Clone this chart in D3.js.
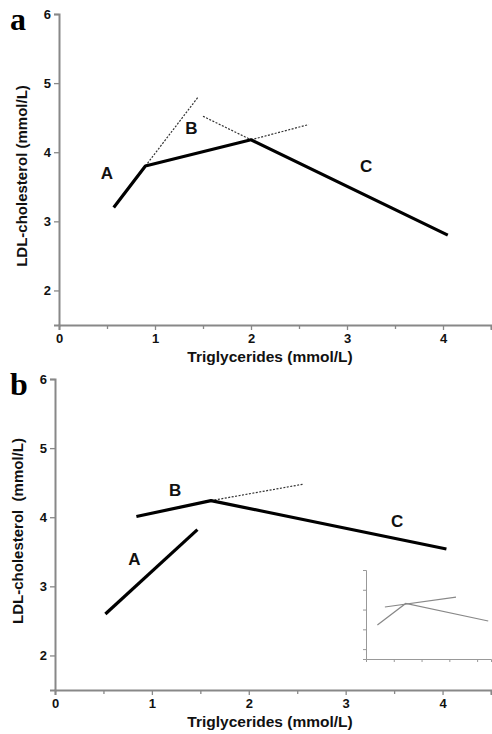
<!DOCTYPE html>
<html>
<head>
<meta charset="utf-8">
<script src="https://cdn.jsdelivr.net/npm/d3@7"></script>
<style>
  body { margin: 0; background: #fff; }
  text { font-family: "Liberation Sans", Arial, sans-serif; }
</style>
</head>
<body>
<div id="chart"></div>
<script>
// panel a segments (triglycerides, LDL)
const aSolid = [[0.57, 3.2], [0.9, 3.8], [2.0, 4.18], [4.05, 2.8]];
const aDotted = [
  [[0.9, 3.8], [1.45, 4.8]],
  [[1.5, 4.52], [2.0, 4.18]],
  [[2.0, 4.18], [2.6, 4.4]]
];
const aLabels = [["A", 0.5, 3.7], ["B", 1.38, 4.35], ["C", 3.2, 3.8]];

// panel b segments
const bSolid = [
  [[0.52, 2.6], [1.47, 3.82]],
  [[0.84, 4.01], [1.61, 4.24], [4.04, 3.54]]
];
const bDotted = [[[1.61, 4.24], [2.57, 4.48]]];
const bLabels = [["A", 0.82, 3.4], ["B", 1.24, 4.39], ["C", 3.53, 3.95]];

// inset (same units as main)
const insetLines = [
  [[0.41, 3.22], [1.43, 4.31], [4.4, 3.42]],
  [[0.68, 4.13], [3.24, 4.63]]
];

const xTicks = [0, 1, 2, 3, 4];
const xMinor = [0.5, 1.5, 2.5, 3.5, 4.5];
const yTicks = [2, 3, 4, 5, 6];

const W = 492, H = 734;
const svg = d3.select("#chart").append("svg")
  .attr("width", W).attr("height", H);

const axisColor = "#888";
const line = (x, y) => d3.line().x(d => x(d[0])).y(d => y(d[1]));

function panel(top, left, letter, solids, dotted, labels, yTitle, yMid) {
  const x = d3.scaleLinear().domain([0, 4.5]).range([left, 491]);
  const y = d3.scaleLinear().domain([1.5, 6]).range([top + 311, top]);
  const g = svg.append("g");

  g.append("g")
    .attr("transform", `translate(0,${y(1.5)})`)
    .call(d3.axisBottom(x).tickValues(xTicks).tickFormat(d3.format("d")).tickSize(5).tickPadding(4));
  g.append("g")
    .attr("transform", `translate(0,${y(1.5)})`)
    .call(d3.axisBottom(x).tickValues(xMinor).tickFormat("").tickSize(4))
    .select(".domain").remove();
  g.append("g")
    .attr("transform", `translate(${x(0)},0)`)
    .call(d3.axisLeft(y).tickValues(yTicks).tickFormat(d3.format("d")).tickSize(5).tickPadding(3));

  g.selectAll(".domain").attr("stroke", axisColor).attr("stroke-width", 2);
  g.selectAll(".tick line").attr("stroke", axisColor).attr("stroke-width", 1.3);
  g.selectAll(".tick text")
    .attr("fill", "#111").style("font-size", "13px").style("font-weight", "bold");

  g.selectAll("path.dot")
    .data(dotted)
    .join("path")
    .attr("class", "dot")
    .attr("d", line(x, y))
    .attr("fill", "none")
    .attr("stroke", "#333")
    .attr("stroke-width", 1.2)
    .attr("stroke-dasharray", "2,1.5");

  g.selectAll("path.solid")
    .data(solids)
    .join("path")
    .attr("class", "solid")
    .attr("d", line(x, y))
    .attr("fill", "none")
    .attr("stroke", "#000")
    .attr("stroke-width", 3.2)
    .attr("stroke-linejoin", "round");

  g.selectAll("text.seg")
    .data(labels)
    .join("text")
    .attr("class", "seg")
    .attr("x", d => x(d[1]))
    .attr("y", d => y(d[2]))
    .attr("text-anchor", "middle")
    .attr("dy", "0.35em")
    .style("font-size", "17px")
    .style("font-weight", "bold")
    .attr("fill", "#111")
    .text(d => d[0]);

  g.append("text")
    .attr("x", 270)
    .attr("y", y(1.5) + 37)
    .attr("text-anchor", "middle")
    .style("font-size", "15.5px")
    .style("font-weight", "bold")
    .attr("fill", "#111")
    .text("Triglycerides (mmol/L)");

  g.append("text")
    .attr("transform", `translate(${left - 32},${yMid}) rotate(-90)`)
    .attr("text-anchor", "middle")
    .style("font-size", "15px")
    .style("font-weight", "bold")
    .attr("fill", "#111")
    .style("white-space", "pre")
    .text(yTitle);

  g.append("text")
    .attr("x", 10)
    .attr("y", top + 16)
    .style("font-family", "'Liberation Serif', 'DejaVu Serif', serif")
    .style("font-size", "32px")
    .style("font-weight", "bold")
    .text(letter);

  return {x, y};
}

panel(14, 59, "a", [aSolid], aDotted, aLabels, "LDL-cholesterol (mmol/L)", 176);
panel(379, 55, "b", bSolid, bDotted, bLabels, "LDL-cholesterol  (mmol/L)", 531);

// inset in panel b
const ix = d3.scaleLinear().domain([0, 4.5]).range([366, 491]);
const iy = d3.scaleLinear().domain([1.5, 6]).range([659, 570]);
const inset = svg.append("g");
inset.append("g")
  .attr("transform", `translate(0,${iy(1.5)})`)
  .call(d3.axisBottom(ix).tickValues([1, 2, 3, 4]).tickFormat("").tickSize(3));
inset.append("g")
  .attr("transform", `translate(${ix(0)},0)`)
  .call(d3.axisLeft(iy).tickValues([2, 3, 4, 5, 6]).tickFormat("").tickSize(3));
inset.selectAll(".domain").attr("stroke", "#999").attr("stroke-width", 1);
inset.selectAll(".tick line").attr("stroke", "#999");
inset.selectAll("path.il")
  .data(insetLines)
  .join("path")
  .attr("class", "il")
  .attr("d", line(ix, iy))
  .attr("fill", "none")
  .attr("stroke", "#888")
  .attr("stroke-width", 1.2);
</script>
</body>
</html>
